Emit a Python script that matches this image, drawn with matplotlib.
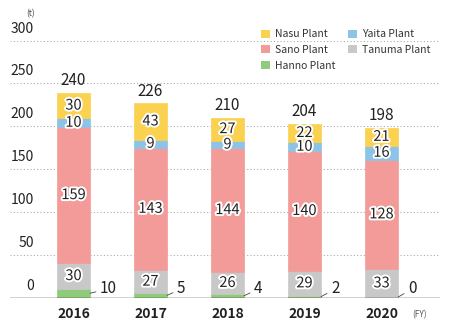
import matplotlib
matplotlib.use("Agg")
import matplotlib.pyplot as plt
import matplotlib.patheffects as pe
from matplotlib.patches import Patch

plt.rcParams['font.family'] = ['Noto Sans CJK JP', 'DejaVu Sans']

years = ["2016", "2017", "2018", "2019", "2020"]
hanno = [10, 5, 4, 2, 0]
tanuma = [30, 27, 26, 29, 33]
sano = [159, 143, 144, 140, 128]
yaita = [10, 9, 9, 10, 16]
nasu = [30, 43, 27, 22, 21]
totals = [240, 226, 210, 204, 198]
yticks = [0, 50, 100, 150, 200, 250, 300]

colors = {
    "Nasu Plant": "#FAD250",
    "Yaita Plant": "#8CC3E6",
    "Sano Plant": "#F29B99",
    "Tanuma Plant": "#C8C8C8",
    "Hanno Plant": "#8FCB7A",
}

fig = plt.figure(figsize=(4.5, 3.32), dpi=100)
ax = fig.add_axes([10/450, (332-297.5)/332, 430/450, 257/332])
ax.set_xlim(-0.825, 4.76)
ax.set_ylim(0, 300)
for s in ax.spines.values():
    s.set_visible(False)
ax.set_xticks([])
ax.set_yticks([])

# gridlines
for v in yticks[1:]:
    ax.axhline(v, color="#aaaaaa", linestyle=(0, (1, 2)), linewidth=0.8, zorder=0)
ax.axhline(0, color="#222222", linewidth=1.0, zorder=3)

# y tick labels (above gridlines, right aligned)
for v in yticks:
    ax.annotate(str(v), xy=(24/430, v), xycoords=("axes fraction", "data"),
                xytext=(0, 3.5), textcoords="offset points", ha="right", va="bottom",
                fontsize=10, color="#222222")
ax.text(25/430, 1.085, "(t)", transform=ax.transAxes, ha="right", va="bottom",
        fontsize=6, color="#444444")

x = list(range(len(years)))
w = 0.43
stroke = [pe.withStroke(linewidth=2.8, foreground="white")]
series = [("Hanno Plant", hanno), ("Tanuma Plant", tanuma), ("Sano Plant", sano),
          ("Yaita Plant", yaita), ("Nasu Plant", nasu)]
bottoms = [0] * len(years)
for name, vals in series:
    ax.bar(x, vals, width=w, bottom=bottoms, color=colors[name], zorder=2,
           edgecolor=colors[name], linewidth=0.5)
    if name != "Hanno Plant":
        for i, v in enumerate(vals):
            ax.text(x[i], bottoms[i] + v / 2, str(v), ha="center", va="center",
                    fontsize=10.5, color="#222222", path_effects=stroke, zorder=4)
    bottoms = [b + v for b, v in zip(bottoms, vals)]

# Hanno labels with leader line
for i, v in enumerate(hanno):
    ax.annotate(str(v), xy=(x[i] + w / 2, max(v, 0) / 2 if v > 0 else 0.5),
                xytext=(x[i] + w / 2 + 0.13, 10), textcoords="data",
                ha="left", va="center", fontsize=11, color="#222222", zorder=4,
                arrowprops=dict(arrowstyle="-", color="#444444", lw=0.6,
                                shrinkA=1, shrinkB=0))

# totals
for i, t in enumerate(totals):
    ax.annotate(str(t), xy=(x[i], bottoms[i]), xytext=(0, 2.5), textcoords="offset points",
                ha="center", va="bottom", fontsize=11, color="#222222")

# year labels
for i, yr in enumerate(years):
    ax.annotate(yr, xy=(x[i], 0), xytext=(0, -7), textcoords="offset points",
                ha="center", va="top", fontsize=10, fontweight="bold", color="#222222")
ax.annotate("(FY)", xy=(4, 0), xytext=(22, -9), textcoords="offset points",
            ha="left", va="top", fontsize=6, color="#555555")

# legend
order = ["Nasu Plant", "Sano Plant", "Hanno Plant", "Yaita Plant", "Tanuma Plant"]
handles = [Patch(facecolor=colors[n], edgecolor="none", label=n) for n in order]
fig.legend(handles=handles, loc="upper left", bbox_to_anchor=(256/450, 1 - 24/332),
           ncol=2, frameon=False, fontsize=7.5, handlelength=0.8, handleheight=0.8,
           handletextpad=0.55, columnspacing=1.2, labelspacing=0.55, borderpad=0,
           labelcolor="#333333")

fig.savefig("out.png", dpi=100, facecolor="white")
